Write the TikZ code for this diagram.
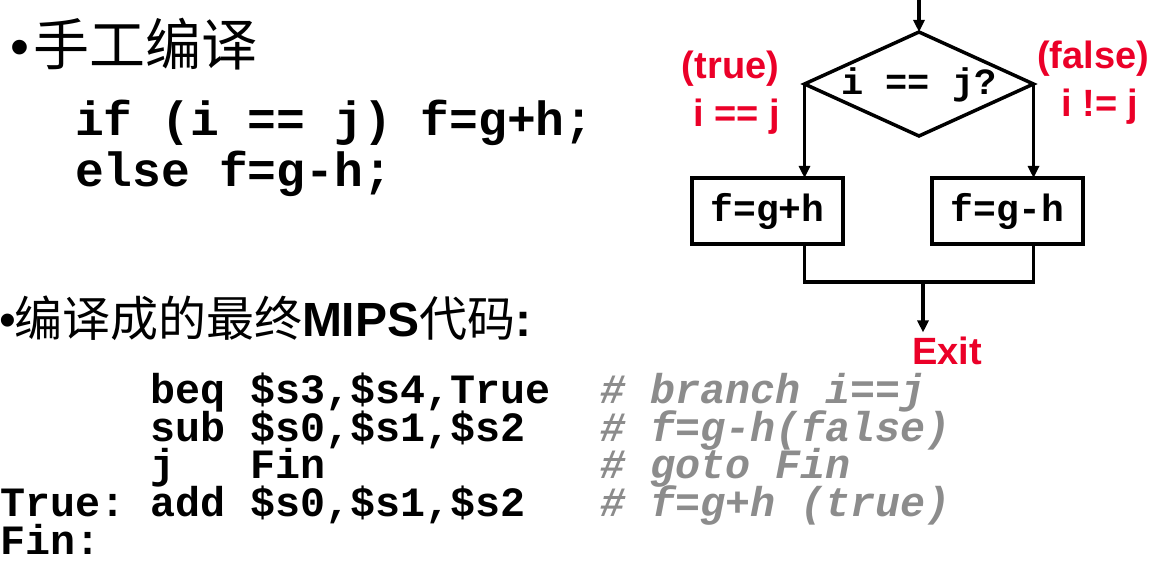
\documentclass[tikz,border=0pt]{standalone}
\usepackage{fontspec}
\setmainfont{Liberation Sans}
\newfontfamily\cjkf{Noto Sans CJK SC}
\newfontfamily\monof{Liberation Mono}
\usetikzlibrary{shapes.geometric,arrows.meta}
\definecolor{redlab}{RGB}{235,0,40}
\definecolor{cmtgray}{RGB}{140,140,140}
\tikzset{
  txt/.style={anchor=base west, inner sep=0pt, outer sep=0pt},
  code/.style={txt, font=\monof\bfseries\fontsize{48}{50}\selectfont},
  asm/.style={txt, font=\monof\bfseries\fontsize{41.7}{44}\selectfont},
  cmt/.style={txt, text=cmtgray, font=\monof\bfseries\itshape\fontsize{41.7}{44}\selectfont},
  redt/.style={txt, text=redlab, font=\bfseries\fontsize{38}{40}\selectfont},
  box/.style={draw, line width=4.5pt, minimum width=151pt, minimum height=66pt, inner sep=0pt, outer sep=0pt,
              font=\monof\bfseries\fontsize{38}{40}\selectfont},
  ln/.style={line width=3.5pt},
  arr/.style={line width=3.5pt, -{Triangle[length=12pt,width=11pt]}},
}
\begin{document}
\begin{tikzpicture}[x=1pt,y=-1pt]
\useasboundingbox (0,0) rectangle (1169,580);
% headings
\node[txt, font=\fontsize{54}{56}\selectfont] (b1) at (10,66) {•};
\node[txt, font=\cjkf\fontsize{56}{58}\selectfont] (h1) at (33,66) {手工编译};
\node[code] (c1) at (75,136) {if (i == j) f=g+h;};
\node[code] (c2) at (75,186) {else f=g-h;};
\node[txt, font=\fontsize{48}{50}\selectfont] (b2) at (-1,336) {•};
\node[txt, font=\fontsize{48}{50}\selectfont] (h2) at (14,336) {{\cjkf 编译成的最终}{\bfseries MIPS}{\cjkf 代码}{\bfseries :}};
% assembly
\node[asm] (i1) at (150,403) {beq \$s3,\$s4,True};
\node[asm] (i2) at (150,441) {sub \$s0,\$s1,\$s2};
\node[asm] (i3) at (150,478) {j\ \ \ Fin};
\node[asm] (l4) at (0,516) {True:};
\node[asm] (i4) at (150,516) {add \$s0,\$s1,\$s2};
\node[asm] (l5) at (0,554) {Fin:};
\node[cmt] (k1) at (600,403) {\# branch i==j};
\node[cmt] (k2) at (600,441) {\# f=g-h(false)};
\node[cmt] (k3) at (600,478) {\# goto Fin};
\node[cmt] (k4) at (600,516) {\# f=g+h (true)};
% flowchart
\coordinate (top) at (919,0);
\node[draw, diamond, line width=3.5pt, minimum width=229pt, minimum height=104pt, inner sep=0pt, outer sep=0pt] (d) at (919,84) {};
\node[txt, anchor=base, font=\monof\bfseries\fontsize{37}{40}\selectfont] (dt) at (919,95) {i == j?};
\node[box] (lb) at (767.5,211) {f=g+h};
\node[box] (rb) at (1007.5,211) {f=g-h};
\coordinate (m) at (923,282);
\node[redt, anchor=base] (ex) at (947,364) {Exit};
\node[redt, anchor=base] (t1) at (730.5,79) {(true)};
\node[redt, anchor=base] (t2) at (736.5,127) {i == j};
\node[redt, anchor=base] (f1) at (1093,69) {(false)};
\node[redt, anchor=base] (f2) at (1100,117) {i != j};
\draw[arr] (top) -- (d.north);
\draw[arr] (d.west) -- (d.west |- lb.north);
\draw[arr] (d.east) -- (d.east |- rb.north);
\draw[ln] (d.west |- lb.south) -- (d.west |- m) -- (d.east |- m) -- (d.east |- rb.south);
\draw[arr] (m) -- ([yshift=4pt]m |- ex.north);
\end{tikzpicture}
\end{document}
